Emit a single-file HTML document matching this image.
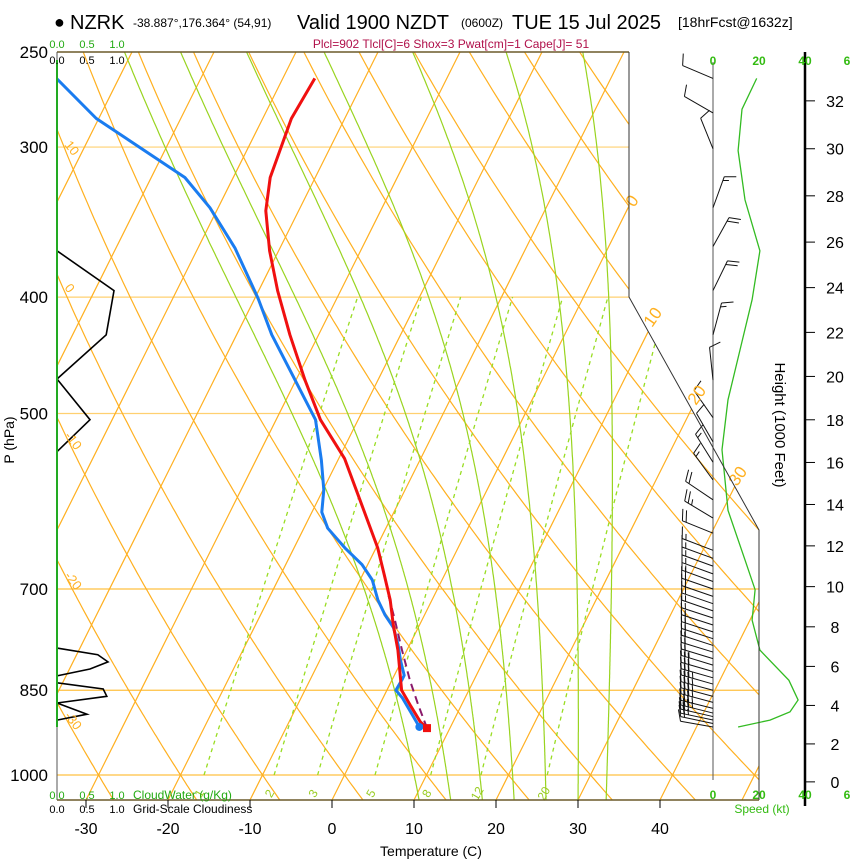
<!DOCTYPE html>
<html><head><meta charset="utf-8">
<style>
body{margin:0;background:#fff;}
svg{display:block;font-family:"Liberation Sans",Arial,sans-serif;}
</style></head>
<body>
<svg id="chart" width="850" height="860" viewBox="0 0 850 860" xmlns="http://www.w3.org/2000/svg">
<defs>
<clipPath id="plotclip"><polygon points="57,52 629,52 629,297 759,530 759,800 57,800"/></clipPath>
</defs>
<rect x="0" y="0" width="850" height="860" fill="#fff"/>
<g id="header">
<text x="54" y="28" font-size="18">●</text>
<text x="70" y="29" font-size="20">NZRK</text>
<text x="133" y="27" font-size="12">-38.887°,176.364° (54,91)</text>
<text x="297" y="29" font-size="20">Valid 1900 NZDT</text>
<text x="461" y="27" font-size="12">(0600Z)</text>
<text x="512" y="29" font-size="20">TUE 15 Jul 2025</text>
<text x="678" y="27" font-size="14">[18hrFcst@1632z]</text>
<text x="451" y="48" font-size="12" fill="#b0104a" text-anchor="middle">Plcl=902 Tlcl[C]=6 Shox=3 Pwat[cm]=1 Cape[J]= 51</text>
</g>
<g id="grid" clip-path="url(#plotclip)"></g>
<g id="panels"></g>
<g id="series" clip-path="url(#plotclip)"></g>
<g id="axes"></g>
</svg>
<script>
// ---- data ----
const tempP = [914,903,874,850,787,750,715,682,647,590,545,506,469,430,395,366,339,318,284,263];
const tempT = [7.2,6.0,3.7,1.8,-1.1,-3.2,-5.1,-7.3,-9.8,-14.9,-19.3,-24.6,-28.9,-33.5,-37.7,-41.1,-44.0,-45.5,-46.5,-46.1];
const dewP = [912,891,863,850,834,826,802,779,754,736,715,688,668,647,623,604,579,547,506,469,430,401,364,337,318,284,263];
const dewT = [6.2,4.6,2.4,1.1,1.2,1.2,-0.2,-1.4,-3.0,-4.8,-6.6,-8.5,-10.7,-13.8,-17.1,-18.8,-19.9,-22.0,-25.2,-30.1,-35.7,-39.6,-45.5,-51.0,-55.9,-70.3,-77.6];
const parcelP = [914,874,834,787,743,704];
const parcelT = [7.2,4.7,2.2,-0.6,-3.3,-5.9];
const cloudP = [366,395,430,468,506,538];
const cloudF = [0,0.95,0.82,0,0.55,0];
const cloudP2 = [784,794,805,816,827,838,848,860,871,890,900];
const cloudF2 = [0,0.68,0.85,0.55,0,0,0.77,0.83,0,0.5,0];
const spdP = [263,279,302,332,366,402,443,487,536,602,662,701,743,787,834,866,886,900,912];
const spdKt = [19,12.6,10.9,13.9,20.4,17,11.7,6.5,3.9,6.5,13.9,18.3,17,20.4,33,37,33.5,24.8,10.9];
const barbP = [912,906,900,894,888,880,870,860,850,840,830,820,810,800,790,780,770,760,750,740,730,720,710,700,690,680,670,660,650,629,611,590,568,549,528,504,469,430,395,363,337,301,281,263];
const barbDir = [280,282,282,283,284,284,285,285,285,286,286,286,287,287,287,288,288,288,288,288,289,289,289,289,290,290,290,290,291,292,301,304,324,328,330,325,354,15,26,29,20,338,300,293];
const barbSpd = [10,20,25,30,35,35,35,35,35,35,30,30,25,20,20,20,20,20,15,15,15,20,20,20,15,15,15,15,15,20,25,20,15,15,10,10,10,15,20,20,15,10,10,10];
const tempTicks = [-30,-20,-10,0,10,20,30,40];
const presTicks = [250,300,400,500,700,850,1000];
const heightTicks = [0,2,4,6,8,10,12,14,16,18,20,22,24,26,28,30,32];
const mixRatios = [1,2,3,5,8,12,20];
const moistThw = [8.5,12.5,16.5,20.5,24.5,28.5,32];

const NS="http://www.w3.org/2000/svg";
const LN4=Math.log(4);
function yP(p){return 775-723*Math.log(1000/p)/LN4;}
function xT(T,p){return 332+8.2*T+0.5*(800-yP(p));}
const pBot=1000*Math.pow(4,25/723);
function el(tag,attrs,parent){const e=document.createElementNS(NS,tag);for(const k in attrs)e.setAttribute(k,attrs[k]);parent.appendChild(e);return e;}
const grid=document.getElementById('grid'),series=document.getElementById('series'),axes=document.getElementById('axes'),panels=document.getElementById('panels');
function pts(arr){return arr.map(a=>a[0].toFixed(1)+','+a[1].toFixed(1)).join(' ');}

// isobars
[300,400,500,700,850,1000].forEach(p=>{
  const l=el('line',{x1:57,x2:760,y1:yP(p),y2:yP(p),stroke:p>=700?'#ffc040':'#ffd070','stroke-width':1.2},grid);
  
  
});
// isotherms
for(let T=-120;T<=50;T+=10){
  const l=el('line',{x1:xT(T,pBot),y1:800,x2:xT(T,250),y2:52,stroke:'#ffb020','stroke-width':1.2},grid);
  
  
}
// dry adiabats
for(let th=-60;th<=200;th+=10){
  const a=[];for(let p=pBot;p>=249;p-=5){const T=(th+273.15)*Math.pow(p/1000,0.286)-273.15;a.push([xT(T,p),yP(p)]);}
  const l=el('polyline',{points:pts(a),fill:'none',stroke:'#ffb020','stroke-width':1.2},grid);
  
  
}
// moist adiabats
function dTdp(T,p){const es=6.112*Math.exp(17.67*(T-273.15)/(T-29.65));const rs=0.622*es/(p-es);
  const num=287*T+2.5e6*rs;const den=1005+2.5e6*2.5e6*rs*0.622/(287*T*T);return num/den/p;}
moistThw.forEach(tw=>{
  const up=[];let T=tw+273.15,p=1000;up.push([p,T]);
  while(p>250){const dp=-2;const k1=dTdp(T,p);const k2=dTdp(T+k1*dp/2,p+dp/2);T+=k2*dp;p+=dp;up.push([p,T]);}
  const dn=[];T=tw+273.15;p=1000;
  while(p<pBot){const dp=2;const k1=dTdp(T,p);const k2=dTdp(T+k1*dp/2,p+dp/2);T+=k2*dp;p+=dp;dn.unshift([p,T]);}
  const all=dn.concat(up).map(a=>[xT(a[1]-273.15,a[0]),yP(a[0])]);
  const l=el('polyline',{points:pts(all),fill:'none',stroke:'#99d420','stroke-width':1.2},grid);
  
  
});
// mixing ratio lines
function tdFromW(w,p){const e=w*p/(622+w);const L=Math.log(e/6.112);return 243.5*L/(17.67-L);}
mixRatios.forEach(w=>{
  const a=[];for(let p=1000;p>=400;p-=10)a.push([xT(tdFromW(w,p),p),yP(p)]);
  const l=el('polyline',{points:pts(a),fill:'none',stroke:'#99dd22','stroke-width':1.3,'stroke-dasharray':'4,4'},grid);
  
  
  const x=xT(tdFromW(w,1035),1035);
  const t=el('text',{x:x,y:yP(1035)+5,'font-size':12,fill:'#99cc22','text-anchor':'middle',transform:'rotate(-60 '+x+' '+yP(1035)+')'},axes);
  t.textContent=w;
  
  
});
// grid labels (dry adiabats left, isotherms right)
[['10',64,145],['0',64,288],['-10',64,436],['-20',64,576],['-30',64,716]].forEach(d=>{
  const t=el('text',{x:d[1],y:d[2],'font-size':13,fill:'#ffb020',transform:'rotate(52 '+d[1]+' '+d[2]+')'},axes);
  t.textContent=d[0];
  
  
});
[['0',634,208],['10',652,328],['20',696,406],['30',737,487]].forEach(d=>{
  const t=el('text',{x:d[1],y:d[2],'font-size':17,fill:'#ffb020',transform:'rotate(-55 '+d[1]+' '+d[2]+')'},axes);
  t.textContent=d[0];
  
  
});

// frame
el('line',{x1:57,y1:52,x2:629,y2:52,stroke:'#6b5a2a','stroke-width':1.5},axes);
el('polyline',{points:'629,52 629,297 759,530 759,800',fill:'none',stroke:'#333','stroke-width':1},axes);
el('line',{x1:57,y1:800,x2:759,y2:800,stroke:'#6b5a2a','stroke-width':1.5},axes);
el('line',{x1:57,y1:52,x2:57,y2:800,stroke:'#555','stroke-width':1},axes);
el('line',{x1:57,y1:60,x2:57,y2:727,stroke:'#22aa22','stroke-width':2},axes);

// cloud profiles
function cloudLine(P,F,name){const a=P.map((p,i)=>[57+F[i]*60,yP(p)]);
  const l=el('polyline',{points:pts(a),fill:'none',stroke:'#000','stroke-width':1.6},panels);
  
  }
cloudLine(cloudP,cloudF,'cloudiness-upper');
cloudLine(cloudP2,cloudF2,'cloudiness-lower');

// profiles
function prof(P,T,color,name,dash){const a=P.map((p,i)=>[xT(T[i],p),yP(p)]);
  const at={points:pts(a),fill:'none',stroke:color,'stroke-width':3,'stroke-linejoin':'round'};
  if(dash){at['stroke-dasharray']=dash;at['stroke-width']=2;}
  const l=el('polyline',at,series);
  
  }
prof(parcelP,parcelT,'#8b1a6b','parcel-path','8,5');
prof(dewP,dewT,'#1a7cf0','dewpoint-profile');
prof(tempP,tempT,'#f01010','temperature-profile');
const sd=el('circle',{cx:xT(dewT[0],dewP[0]),cy:yP(dewP[0]),r:4,fill:'#1a7cf0'},series);


const st=el('rect',{x:xT(tempT[0],tempP[0])-4,y:yP(tempP[0])-4,width:8,height:8,fill:'#f01010'},series);



// wind panel
el('line',{x1:713,y1:62,x2:713,y2:780,stroke:'#555','stroke-width':1},panels);
el('line',{x1:805,y1:52,x2:805,y2:806,stroke:'#000','stroke-width':2.5},panels);
const sp=spdP.map((p,i)=>[713+spdKt[i]*2.3,yP(p)]);
const spl=el('polyline',{points:pts(sp),fill:'none',stroke:'#33bb22','stroke-width':1.3},panels);


barbP.forEach((p,i)=>{
  const y=yP(p),d=barbDir[i]*Math.PI/180,L=33;
  const ux=Math.sin(d),uy=-Math.cos(d);
  const tx=713+L*ux,ty=y+L*uy;
  const g=el('g',{},panels);
  
  
  el('line',{x1:713,y1:y,x2:tx,y2:ty,stroke:'#111','stroke-width':1},g);
  let s=Math.round(barbSpd[i]/5)*5,k=0;
  const fx=-uy*0.94+ux*0.34,fy=ux*0.94+uy*0.34;
  while(s>=10){const bx=tx-ux*k*4,by=ty-uy*k*4;el('line',{x1:bx,y1:by,x2:bx+fx*12,y2:by+fy*12,stroke:'#111','stroke-width':1},g);s-=10;k++;}
  if(s>=5){if(k===0)k=1;const bx=tx-ux*k*4,by=ty-uy*k*4;el('line',{x1:bx,y1:by,x2:bx+fx*6,y2:by+fy*6,stroke:'#111','stroke-width':1},g);}
});

// axes labels
presTicks.forEach(p=>{const t=el('text',{x:48,y:yP(p)+6,'font-size':17,'text-anchor':'end'},axes);t.textContent=p;
  
  });
const pl=el('text',{x:14,y:440,'font-size':14,'text-anchor':'middle',transform:'rotate(-90 14 440)'},axes);pl.textContent='P (hPa)';


tempTicks.forEach(T=>{const x=332+8.2*T;el('line',{x1:x,y1:800,x2:x,y2:808,stroke:'#000'},axes);
  const t=el('text',{x:x,y:834,'font-size':16,'text-anchor':'middle'},axes);t.textContent=T;
  
  });
const xl=el('text',{x:431,y:856,'font-size':14,'text-anchor':'middle'},axes);xl.textContent='Temperature (C)';


function hY(k){const h=k*304.8;const p=1013.25*Math.pow(1-6.5e-3*h/288.15,5.255);return yP(p);}
heightTicks.forEach(k=>{const y=hY(k);el('line',{x1:805,y1:y,x2:815,y2:y,stroke:'#000'},axes);
  const t=el('text',{x:835,y:y+6,'font-size':16,'text-anchor':'middle'},axes);t.textContent=k;
  
  });
const hl=el('text',{x:775,y:425,'font-size':15,'text-anchor':'middle',transform:'rotate(90 775 425)'},axes);hl.textContent='Height (1000 Feet)';


[[713,'0'],[759,'20'],[805,'40'],[847,'6']].forEach(d=>{
  [65,799].forEach(y=>{const t=el('text',{x:d[0],y:y,'font-size':12,'font-weight':'bold',fill:'#33bb11','text-anchor':'middle'},axes);t.textContent=d[1];
  
  });});
const skl=el('text',{x:762,y:813,'font-size':12,fill:'#33bb11','text-anchor':'middle'},axes);skl.textContent='Speed (kt)';


// cloud scales
[[57,'0.0'],[87,'0.5'],[117,'1.0']].forEach(d=>{
  const a=el('text',{x:d[0],y:48,'font-size':11,fill:'#22aa11','text-anchor':'middle'},axes);a.textContent=d[1];
  
  
  const b=el('text',{x:d[0],y:64,'font-size':11,'text-anchor':'middle'},axes);b.textContent=d[1];
  
  
  const c=el('text',{x:d[0],y:799,'font-size':11,fill:'#22aa11','text-anchor':'middle'},axes);c.textContent=d[1];
  
  
  const e=el('text',{x:d[0],y:813,'font-size':11,'text-anchor':'middle'},axes);e.textContent=d[1];
  
  
});
const cw=el('text',{x:133,y:799,'font-size':12,fill:'#22aa11'},axes);cw.textContent='CloudWater (g/Kg)';


const gc=el('text',{x:133,y:813,'font-size':12},axes);gc.textContent='Grid-Scale Cloudiness';


</script>
</body></html>
